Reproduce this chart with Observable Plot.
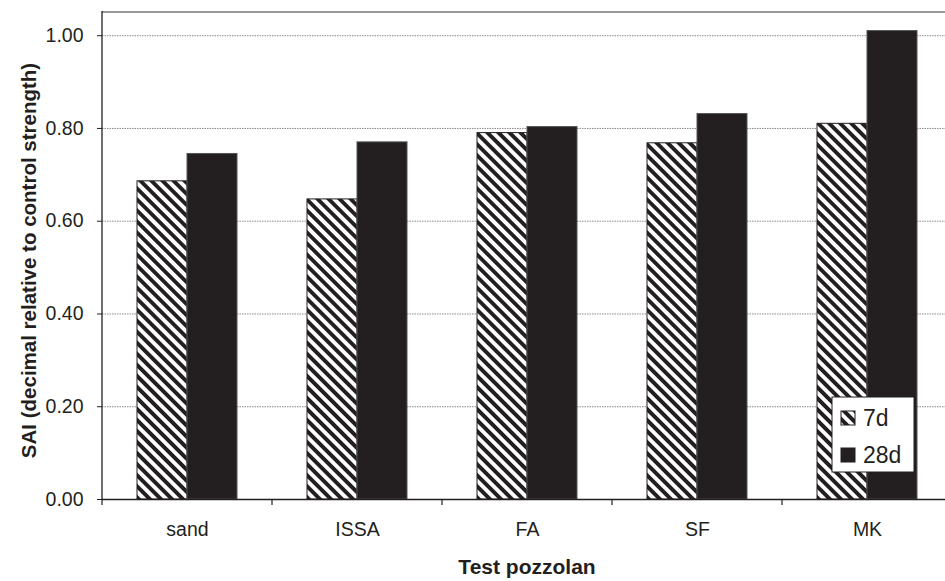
<!DOCTYPE html>
<html><head><meta charset="utf-8">
<script src="https://cdn.jsdelivr.net/npm/d3@7"></script>
<script src="https://cdn.jsdelivr.net/npm/@observablehq/plot@0.6"></script>
<style>
html,body{margin:0;padding:0;background:#fff;overflow:hidden;width:945px;height:581px}
#chart svg{max-width:none !important;display:block}
</style></head><body><div id="chart"></div>
<script>
const categories = ["sand", "ISSA", "FA", "SF", "MK"];
const series = ["7d", "28d"];
const values7d = [0.686, 0.647, 0.790, 0.768, 0.810];
const values28d = [0.745, 0.770, 0.803, 0.831, 1.010];
const yTicks = [0, 0.2, 0.4, 0.6, 0.8, 1.0];
const yLabel = "SAI (decimal relative to control strength)";
const xLabel = "Test pozzolan";

const data = categories.flatMap((c, i) => [
  {cat: c, series: "7d", value: values7d[i]},
  {cat: c, series: "28d", value: values28d[i]}
]);
const INK = "#231f20";
const font = "'Liberation Sans', Arial, sans-serif";

const plot = Plot.plot({
  width: 953, height: 581,
  marginLeft: 101, marginRight: 0, marginTop: 12, marginBottom: 82,
  style: {fontFamily: font, fontSize: "19.5px", color: INK, background: "white", overflow: "visible"},
  fx: {domain: categories, padding: 0, label: null, tickSize: 0, tickPadding: 23},
  x: {domain: series, paddingInner: 0, paddingOuter: 0.7, axis: null},
  y: {domain: [0, 1.05], ticks: yTicks, tickFormat: d3.format(".2f"), tickSize: 5, tickPadding: 14, label: null},
  marks: [
    Plot.gridY(yTicks.filter(d => d > 0), {stroke: "#8a8a8a", strokeOpacity: 1, strokeDasharray: "1.5,1"}),
    Plot.barY(data.filter(d => d.series === "7d"), {fx: "cat", x: "series", y: "value", fill: "url(#hatch)", stroke: INK, strokeWidth: 1}),
    Plot.barY(data.filter(d => d.series === "28d"), {fx: "cat", x: "series", y: "value", fill: INK, stroke: "#555", strokeWidth: 1}),
    Plot.ruleY([0], {stroke: INK, strokeWidth: 1.3})
  ]
});

const svg = d3.select(plot);
const defs = svg.insert("defs", ":first-child");
const pat = defs.append("pattern").attr("id", "hatch").attr("patternUnits", "userSpaceOnUse")
  .attr("width", 7.8).attr("height", 7.8).attr("patternTransform", "rotate(-45)");
pat.append("rect").attr("width", 7.8).attr("height", 7.8).attr("fill", "white");
pat.append("rect").attr("width", 3.9).attr("height", 7.8).attr("fill", INK);

const fx = plot.scale("fx"), y = plot.scale("y");
const bounds = categories.map(c => fx.apply(c));
bounds.push(bounds[bounds.length - 1] + fx.step);
const left = bounds[0], right = bounds[bounds.length - 1];
const yTop = y.apply(1.05), yBot = y.apply(0);

const g = svg.append("g");
g.append("line").attr("x1", left).attr("x2", right).attr("y1", yTop).attr("y2", yTop)
  .attr("stroke", "#999").attr("stroke-width", 2);
g.append("line").attr("x1", left).attr("x2", left).attr("y1", yTop - 1).attr("y2", yBot)
  .attr("stroke", INK).attr("stroke-width", 1.3);
bounds.forEach(b => g.append("line").attr("x1", b).attr("x2", b).attr("y1", yBot).attr("y2", yBot + 6)
  .attr("stroke", INK).attr("stroke-width", 1.2));

svg.append("text").attr("transform", `translate(36,${(yTop + yBot) / 2 + 5}) rotate(-90)`)
  .attr("text-anchor", "middle").attr("font-weight", "bold").style("font-size", "20.5px")
  .attr("font-family", font).attr("fill", INK).text(yLabel);
svg.append("text").attr("x", (left + right) / 2).attr("y", 574)
  .attr("text-anchor", "middle").attr("font-weight", "bold").style("font-size", "21px")
  .attr("font-family", font).attr("fill", INK).text(xLabel);

const lg = svg.append("g").attr("font-family", font).style("font-size", "23px")
  .attr("text-anchor", "start").attr("fill", INK);
lg.append("rect").attr("x", 832).attr("y", 397).attr("width", 82).attr("height", 75)
  .attr("fill", "white").attr("stroke", INK).attr("stroke-width", 1);
const legendItems = [
  {label: series[0], fill: "url(#hatch)", y: 411},
  {label: series[1], fill: INK, y: 448}
];
legendItems.forEach(it => {
  lg.append("rect").attr("x", 841).attr("y", it.y).attr("width", 14).attr("height", 14)
    .attr("fill", it.fill).attr("stroke", INK).attr("stroke-width", 1);
  lg.append("text").attr("x", 863).attr("y", it.y + 14.5).attr("text-anchor", "start").text(it.label);
});

document.getElementById("chart").appendChild(plot);
</script></body></html>
